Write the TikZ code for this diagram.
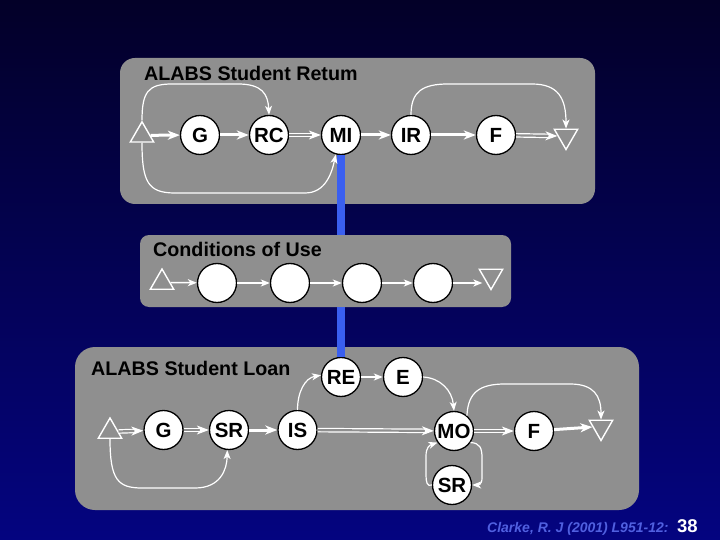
\documentclass[tikz,border=0pt]{standalone}
\usepackage{fontspec}
\setmainfont{Liberation Sans}
\usetikzlibrary{arrows.meta,shapes.geometric}
\definecolor{panelgray}{RGB}{143,143,143}
\definecolor{bgtop}{RGB}{3,0,40}
\definecolor{bgbot}{RGB}{4,4,128}
\definecolor{barblue}{RGB}{58,95,240}
\definecolor{footblue}{RGB}{80,96,224}
\begin{document}
\begin{tikzpicture}[x=1pt,y=-1pt,
  panel/.style={rectangle, fill=panelgray, draw=none, inner sep=0pt},
  state/.style={circle, draw=black, line width=1.3pt, fill=white, minimum size=39pt, inner sep=0pt, font=\bfseries\fontsize{20.5}{20.5}\selectfont},
  src/.style={regular polygon, regular polygon sides=3, draw=white, line width=1.4pt, minimum size=27pt, inner sep=0pt},
  snk/.style={src, shape border rotate=180},
  title/.style={anchor=base west, inner sep=0pt, font=\bfseries\fontsize{19.7}{19.7}\selectfont},
  bigtip/.style={-{Stealth[length=12pt,width=9pt,inset=3.5pt]}},
  smalltip/.style={-{Stealth[length=9pt,width=7pt,inset=2.5pt]}},
  heavy/.style={bigtip, draw=white, line width=3pt},
  medium/.style={smalltip, draw=white, line width=2pt},
  dbl/.style={bigtip, draw=white, line width=1.2pt, double=panelgray, double distance=2.2pt},
  thin/.style={smalltip, draw=white, line width=1.2pt},
  bar/.style={draw=barblue, line width=8pt},
]
\useasboundingbox (0,0) rectangle (720,540);
\fill[top color=bgtop, bottom color=bgbot] (0,0) rectangle (720,540);

% panels
\node[panel, rounded corners=15pt, minimum width=475pt, minimum height=146pt] (P1) at (357.5,131) {};
\node[panel, rounded corners=9pt, minimum width=371pt, minimum height=72pt] (P2) at (325.5,271) {};
\node[panel, rounded corners=20pt, minimum width=564pt, minimum height=163pt] (P3) at (357,428.5) {};

\node[title] (t1) at (144,81) {ALABS Student Retum};
\node[title] (t2) at (153,256) {Conditions of Use};
\node[title] (t3) at (91,375) {ALABS Student Loan};

% panel 1 nodes
\node[src] (T1a) at (142,135.3) {};
\node[state] (G1) at (200,135) {G};
\node[state] (RC) at (269,135) {RC};
\node[state] (MI) at (341,135) {MI};
\node[state] (IR) at (411,135) {IR};
\node[state] (F1) at (496,135) {F};
\node[snk] (T1b) at (566,136) {};

% panel 2 nodes
\node[src] (T2a) at (162,282.5) {};
\node[state] (C1) at (217,283) {};
\node[state] (C2) at (290,283) {};
\node[state] (C3) at (362,283) {};
\node[state] (C4) at (433,283) {};
\node[snk] (T2b) at (491,276) {};

% panel 3 nodes
\node[src] (T3a) at (110,431.5) {};
\node[state] (G3) at (163.5,430) {G};
\node[state] (SR3) at (229,430) {SR};
\node[state] (IS) at (297.5,430) {IS};
\node[state] (RE) at (341,377) {RE};
\node[state] (E) at (403,377) {E};
\node[state] (MO) at (454,431) {MO};
\node[state] (F3) at (534,431) {F};
\node[state] (SR4) at (452,485) {SR};
\node[snk] (T3b) at (601,427) {};

% blue bars
\draw[bar] (MI.south) -- (MI.south |- P2.north);
\draw[bar] (P2.south -| RE.north) -- (RE.north);

% panel 1 edges
\draw[heavy] (T1a.east) -- (G1);
\draw[heavy] (G1) -- (RC);
\draw[dbl] (RC) -- (MI);
\draw[heavy] (MI) -- (IR);
\draw[heavy] (IR) -- (F1);
\draw[dbl] (F1) -- (T1b.west);
\draw[thin] (T1a.north) .. controls (142,92) and (148,84) .. (172,84) -- (238,84) .. controls (262,84) and (268,94) .. (RC.north);
\draw[thin] (T1a.south) .. controls (142,182) and (148,193) .. (175,193) -- (305,193) .. controls (326,193) and (332,172) .. (MI.255);
\draw[thin] (IR.north) .. controls (411,92) and (422,84) .. (448,84) -- (532,84) .. controls (558,84) and (566,98) .. (T1b.north);

% panel 2 edges
\draw[thin, line width=1.5pt] (T2a.east) -- (C1);
\draw[thin, line width=1.5pt] (C1) -- (C2);
\draw[thin, line width=1.5pt] (C2) -- (C3);
\draw[thin, line width=1.5pt] (C3) -- (C4);
\draw[thin, line width=1.5pt] (C4) -- (T2b.west |- C4);

% panel 3 edges
\draw[dbl] (T3a.east) -- (G3);
\draw[dbl] (G3) -- (SR3);
\draw[heavy] (SR3) -- (IS);
\draw[dbl] (IS) -- (MO);
\draw[dbl] (MO) -- (F3);
\draw[heavy] (F3) -- (T3b.west);
\draw[medium] (RE) -- (E);
\draw[thin] (IS.north) .. controls (297.5,392) and (305,378) .. (RE.175);
\draw[thin] (E.east) .. controls (440,378) and (452,390) .. (MO.north);
\draw[thin] (MO.50) .. controls (468,392) and (480,384) .. (505,384) -- (570,384) .. controls (594,384) and (601,396) .. (T3b.north);
\draw[thin] (MO.-35) .. controls (480,443) and (482,448) .. (482,458) -- (482,478) .. controls (482,485) and (478,485) .. (SR4.east);
\draw[thin] (SR4.west) .. controls (427,487) and (426,482) .. (426,475) -- (426,456) .. controls (426,447) and (430,445) .. (MO.215);
\draw[thin] (T3a.south) .. controls (110,480) and (118,488) .. (142,488) -- (195,488) .. controls (220,488) and (227,470) .. (SR3.265);

% footer
\node[anchor=base west, inner sep=0pt, text=footblue, font=\bfseries\itshape\fontsize{14}{14}\selectfont] (cite) at (487,532) {Clarke, R. J (2001) L951-12:};
\node[anchor=base west, inner sep=0pt, text=white, font=\bfseries\fontsize{18.5}{18.5}\selectfont] (pg) at (677,532) {38};
\end{tikzpicture}
\end{document}
